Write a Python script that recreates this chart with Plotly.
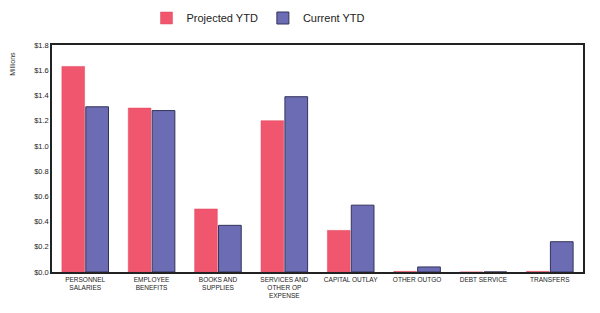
import plotly.graph_objects as go

categories = ["PERSONNEL<br>SALARIES", "EMPLOYEE<br>BENEFITS", "BOOKS AND<br>SUPPLIES",
              "SERVICES AND<br>OTHER OP<br>EXPENSE", "CAPITAL OUTLAY", "OTHER OUTGO",
              "DEBT SERVICE", "TRANSFERS"]
projected_ytd = [1.63, 1.30, 0.50, 1.20, 0.33, 0.005, 0.0, 0.005]
current_ytd = [1.31, 1.28, 0.37, 1.39, 0.53, 0.04, 0.0, 0.24]
y_ticks = [0.0, 0.2, 0.4, 0.6, 0.8, 1.0, 1.2, 1.4, 1.6, 1.8]

fig = go.Figure()
fig.add_bar(name="Projected YTD", x=categories, y=projected_ytd,
            marker=dict(color="#F0566E", line=dict(color="#E0485E", width=0.5)))
fig.add_bar(name="Current YTD", x=categories, y=current_ytd,
            marker=dict(color="#6C6CB4", line=dict(color="#33335A", width=1)))

fig.update_layout(
    width=600, height=313,
    margin=dict(l=44, r=25, t=37, b=49, autoexpand=False),
    paper_bgcolor="white", plot_bgcolor="white",
    font=dict(family="Liberation Sans, Arial, sans-serif", color="#222", size=8),
    barmode="group", bargap=0.28, bargroupgap=0.05,
    showlegend=True,
    legend=dict(orientation="h", xref="container", x=250 / 600, xanchor="center",
                yref="container", y=1 - 10 / 313, yanchor="middle",
                font=dict(size=11, color="#222"), itemwidth=30, traceorder="normal",
                tracegroupgap=0),
    xaxis=dict(showline=True, linecolor="#222", linewidth=1.5, mirror=True,
               tickfont=dict(size=6.5, color="#222"), ticks="", showgrid=False,
               tickangle=0, automargin=False),
    yaxis=dict(range=[0, 1.8], tickvals=y_ticks, tickformat="$.1f",
               showline=True, linecolor="#222", linewidth=1.5, mirror=True,
               showgrid=False, ticks="", tickfont=dict(size=7.5, color="#222"),
               automargin=False),
    annotations=[dict(text="Millions", textangle=-90, xref="paper", yref="paper",
                      x=-0.075, y=0.98, xanchor="center", yanchor="top",
                      showarrow=False, font=dict(size=7, color="#333"))],
)

fig.write_html("out.html")
